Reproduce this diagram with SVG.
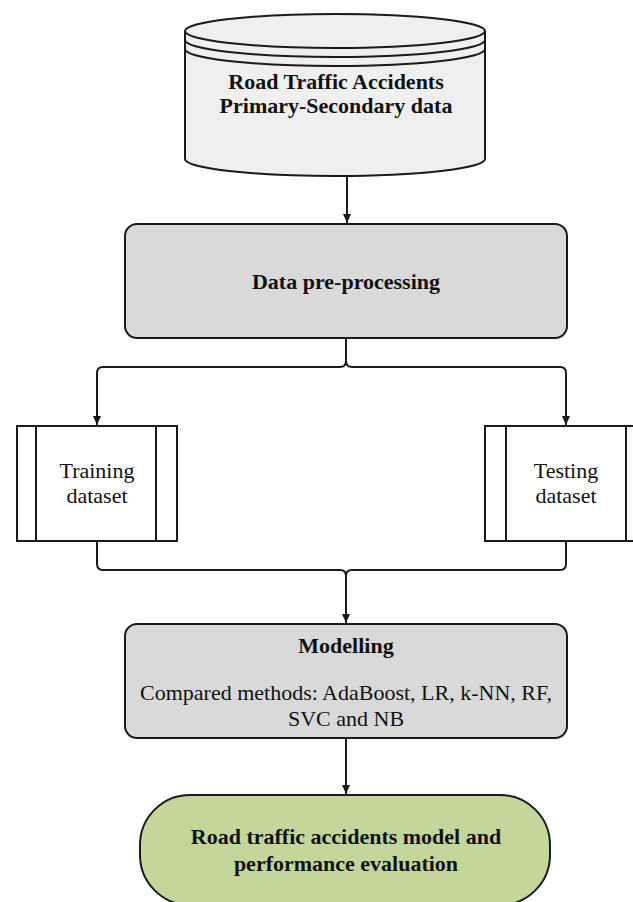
<svg xmlns="http://www.w3.org/2000/svg" width="633" height="902" viewBox="0 0 633 902">
<style>
.ln{fill:none;stroke:#1a1a1a;stroke-width:2}
.b{font-family:"Liberation Serif","Times New Roman",serif;font-weight:bold;font-size:22px;fill:#111;text-anchor:middle}
.r{font-family:"Liberation Serif","Times New Roman",serif;font-size:22px;fill:#111;text-anchor:middle}
</style>
<defs>
<marker id="ah" markerUnits="userSpaceOnUse" markerWidth="10" markerHeight="10" refX="9" refY="5" orient="auto">
<path d="M0,1 L9,5 L0,9 Z" fill="#1a1a1a"/>
</marker>
</defs>
<rect width="633" height="902" fill="#fff"/>
<g id="source">
<path d="M185,31 V159 A150,17 0 0 0 485,159 V31" fill="#efefef" stroke="#1a1a1a" stroke-width="2"/>
<ellipse cx="335" cy="31" rx="150" ry="17" fill="#efefef" stroke="#1a1a1a" stroke-width="2"/>
<path class="ln" d="M185,40 A150,17 0 0 0 485,40"/>
<path class="ln" d="M185,49 A150,17 0 0 0 485,49"/>
<text class="b" x="336" y="89">Road Traffic Accidents</text>
<text class="b" x="336" y="113">Primary-Secondary data</text>
</g>
<g id="preprocessing">
<rect x="125" y="224" width="442" height="114" rx="12" fill="#d9d9d9" stroke="#1a1a1a" stroke-width="2"/>
<text class="b" x="346" y="289">Data pre-processing</text>
</g>
<g id="training">
<rect x="17" y="426" width="160" height="115" fill="#fff" stroke="#1a1a1a" stroke-width="2"/>
<line class="ln" x1="36" y1="426" x2="36" y2="541"/>
<line class="ln" x1="156" y1="426" x2="156" y2="541"/>
<text class="r" x="97" y="478">Training</text>
<text class="r" x="97" y="503">dataset</text>
</g>
<g id="testing">
<rect x="485" y="426" width="160" height="115" fill="#fff" stroke="#1a1a1a" stroke-width="2"/>
<line class="ln" x1="506" y1="426" x2="506" y2="541"/>
<line class="ln" x1="626" y1="426" x2="626" y2="541"/>
<text class="r" x="566" y="478">Testing</text>
<text class="r" x="566" y="503">dataset</text>
</g>
<g id="modelling">
<rect x="125" y="624" width="442" height="114" rx="12" fill="#d9d9d9" stroke="#1a1a1a" stroke-width="2"/>
<text class="b" x="346" y="653">Modelling</text>
<text class="r" x="346" y="700">Compared methods: AdaBoost, LR, k-NN, RF,</text>
<text class="r" x="346" y="726">SVC and NB</text>
</g>
<g id="evaluation">
<rect x="140" y="795" width="410" height="110" rx="50" fill="#c4d79b" stroke="#1a1a1a" stroke-width="2"/>
<text class="b" x="346" y="844">Road traffic accidents model and</text>
<text class="b" x="346" y="871">performance evaluation</text>
</g>
<g id="connectors">
<path class="ln" d="M347,176 V223" marker-end="url(#ah)"/>
<path class="ln" d="M346,338 V361 Q346,367 340,367 H103 Q97,367 97,373 V425" marker-end="url(#ah)"/>
<path class="ln" d="M346,361 Q346,367 352,367 H560 Q566,367 566,373 V425" marker-end="url(#ah)"/>
<path class="ln" d="M97,541 V564 Q97,570 103,570 H340 Q346,570 346,576 V623" marker-end="url(#ah)"/>
<path class="ln" d="M566,541 V564 Q566,570 560,570 H352 Q346,570 346,576"/>
<path class="ln" d="M346,738 V794" marker-end="url(#ah)"/>
</g>
</svg>
